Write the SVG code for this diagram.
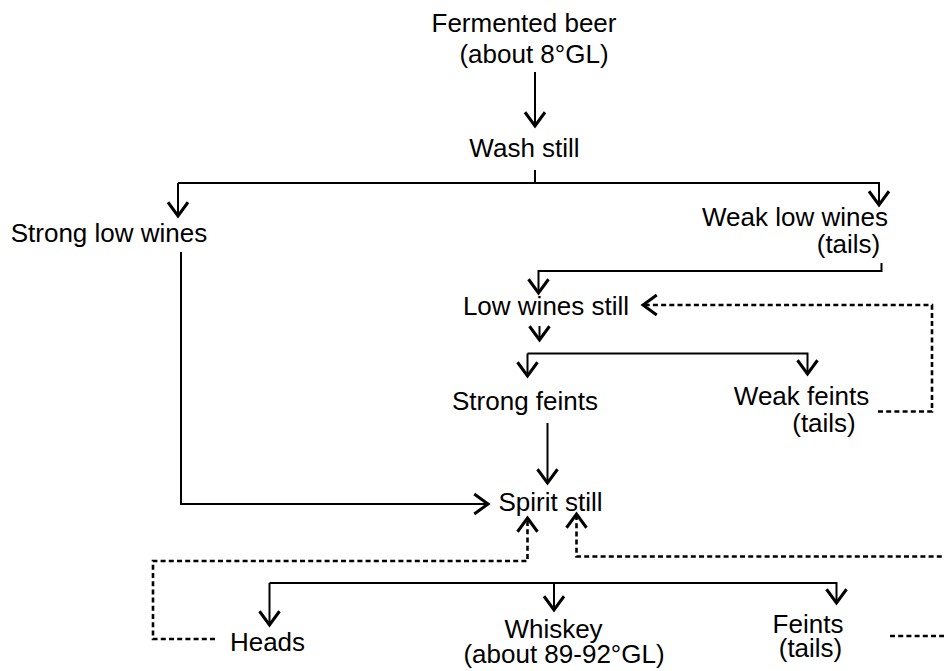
<svg xmlns="http://www.w3.org/2000/svg" width="944" height="671" viewBox="0 0 944 671">
<style>
text{font-family:"Liberation Sans",Arial,sans-serif;font-size:26px;fill:#000;text-anchor:middle}
.s{fill:none;stroke:#000;stroke-width:2}
.d{fill:none;stroke:#000;stroke-width:2.6;stroke-dasharray:5 3.2}
</style>
<defs>
<marker id="a" markerUnits="userSpaceOnUse" markerWidth="30" markerHeight="30" viewBox="-14 -12 16 24" refX="0" refY="0" orient="auto" overflow="visible">
<path d="M-11,-8 L0,0 L-11,8" fill="none" stroke="#000" stroke-width="2.4"/>
</marker>
</defs>
<rect width="944" height="671" fill="#fff"/>
<g id="connectors">
<path class="s" d="M535,72 V126" marker-end="url(#a)"/>
<path class="s" d="M535,170 V183"/>
<path class="s" d="M178,183 H879 V205" marker-end="url(#a)"/>
<path class="s" d="M178,183 V216" marker-end="url(#a)"/>
<path class="s" d="M881.5,263 V271 H538.5 V293" marker-end="url(#a)"/>
<path class="s" d="M539.5,326 V340" marker-end="url(#a)"/>
<path class="s" d="M527.5,353.5 H807.5 V374" marker-end="url(#a)"/>
<path class="s" d="M527.5,353.5 V376" marker-end="url(#a)"/>
<path class="s" d="M547.5,423 V483" marker-end="url(#a)"/>
<path class="s" d="M181,252 V504 H488" marker-end="url(#a)"/>
<path class="s" d="M269.5,583 H836.5 V603" marker-end="url(#a)"/>
<path class="s" d="M269.5,583 V625" marker-end="url(#a)"/>
<path class="s" d="M554,583 V610" marker-end="url(#a)"/>
<path class="d" d="M878,411.5 H932 V305 H643" marker-end="url(#a)"/>
<path class="d" d="M215,639 H153 V561 H527.5 V518" marker-end="url(#a)"/>
<path class="d" d="M950,556.5 H576.5 V514" marker-end="url(#a)"/>
<path class="d" d="M890,636 H950"/>
</g>
<g id="fermented-beer"><text x="524" y="32">Fermented beer</text><text x="534" y="63">(about 8°GL)</text></g>
<g id="wash-still"><text x="524.5" y="157">Wash still</text></g>
<g id="strong-low-wines"><text x="109" y="242">Strong low wines</text></g>
<g id="weak-low-wines"><text x="795" y="226">Weak low wines</text><text x="848.5" y="253">(tails)</text></g>
<g id="low-wines-still"><text x="546" y="315">Low wines still</text></g>
<g id="strong-feints"><text x="525" y="410">Strong feints</text></g>
<g id="weak-feints"><text x="801.5" y="405">Weak feints</text><text x="824" y="432">(tails)</text></g>
<g id="spirit-still"><text x="550.5" y="511">Spirit still</text></g>
<g id="heads"><text x="267.5" y="651">Heads</text></g>
<g id="whiskey"><text x="553.5" y="638">Whiskey</text><text x="564" y="663">(about 89-92°GL)</text></g>
<g id="feints"><text x="808" y="633">Feints</text><text x="810.5" y="657">(tails)</text></g>
</svg>
